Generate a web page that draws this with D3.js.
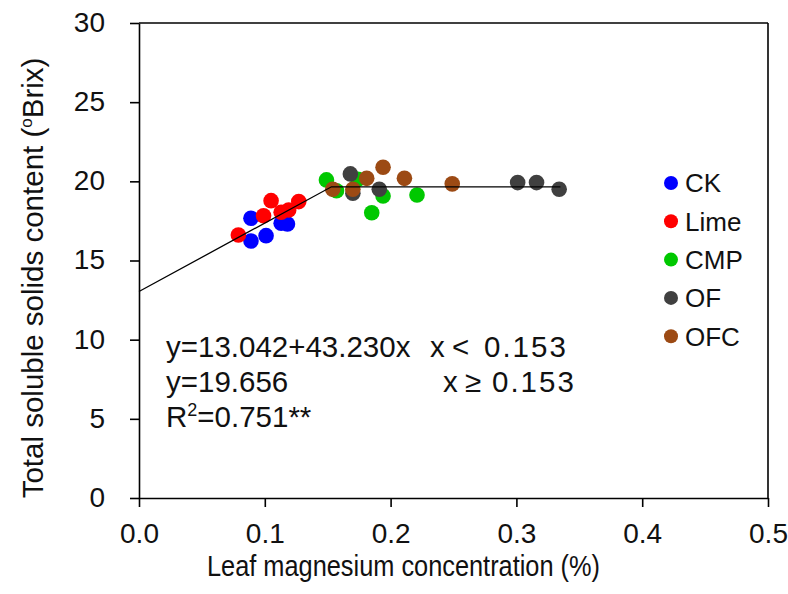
<!DOCTYPE html>
<html>
<head>
<meta charset="utf-8">
<script src="https://cdn.jsdelivr.net/npm/d3@7"></script>
<style>
  body { margin: 0; background: #fff; }
  svg { display: block; font-family: "Liberation Sans", Arial, sans-serif; }
</style>
</head>
<body>
<svg id="chart" width="788" height="594"></svg>
<script>
// ---- data ----
const seriesNames = ["CK", "Lime", "CMP", "OF", "OFC"];
const seriesColors = ["#0000ff", "#ff0000", "#00c800", "#404040", "#9c4a14"];
const ckX   = [0.089, 0.089, 0.101, 0.113, 0.118];
const ckY   = [17.67, 16.23, 16.57, 17.35, 17.31];
const limeX = [0.079, 0.099, 0.105, 0.113, 0.119, 0.127];
const limeY = [16.61, 17.83, 18.78, 18.05, 18.19, 18.72];
const cmpX  = [0.149, 0.157, 0.174, 0.185, 0.194, 0.221];
const cmpY  = [20.09, 19.41, 20.13, 18.02, 19.08, 19.14];
const ofX   = [0.168, 0.170, 0.191, 0.301, 0.316, 0.334];
const ofY   = [20.47, 19.25, 19.50, 19.92, 19.92, 19.50];
const ofcX  = [0.154, 0.170, 0.181, 0.194, 0.211, 0.249];
const ofcY  = [19.50, 19.50, 20.19, 20.89, 20.19, 19.84];
const xTicks = [0.0, 0.1, 0.2, 0.3, 0.4, 0.5];
const yTicks = [0, 5, 10, 15, 20, 25, 30];
// piecewise fit
const intercept = 13.042, slope = 43.230, breakX = 0.153, plateau = 19.656, fitEndX = 0.335;
const eqLines = ["y=13.042+43.230x", "y=19.656"];
const r2Text = "=0.751**";

const seriesX = [ckX, limeX, cmpX, ofX, ofcX];
const seriesY = [ckY, limeY, cmpY, ofY, ofcY];

const svg = d3.select("#chart");
const x = d3.scaleLinear().domain([0, 0.5]).range([139, 768]);
const y = d3.scaleLinear().domain([0, 30]).range([498, 23]);
const ink = "#111";

// frame (top & right)
svg.append("line").attr("x1", x(0)).attr("x2", x(0.5)).attr("y1", y(30)).attr("y2", y(30))
  .attr("stroke", "#000").attr("stroke-width", 1.6);
svg.append("line").attr("x1", x(0.5)).attr("x2", x(0.5)).attr("y1", y(30)).attr("y2", y(0))
  .attr("stroke", "#000").attr("stroke-width", 1.6);

const gx = svg.append("g").attr("transform", `translate(0,${y(0)})`)
  .call(d3.axisBottom(x).tickValues(xTicks).tickFormat(d3.format(".1f")).tickSize(9).tickPadding(16).tickSizeOuter(0));
const gy = svg.append("g").attr("transform", `translate(${x(0)},0)`)
  .call(d3.axisLeft(y).tickValues(yTicks).tickSize(9).tickPadding(25).tickSizeOuter(0));
[gx, gy].forEach(g => {
  g.select(".domain").attr("stroke", "#000").attr("stroke-width", 1.6);
  g.selectAll(".tick line").attr("stroke", "#000").attr("stroke-width", 1.6);
  g.selectAll(".tick text").attr("fill", ink).style("font-size", "28px")
    .style("font-family", '"Liberation Sans", Arial, sans-serif');
});
gy.selectAll(".tick text").attr("dy", "0.3em");

// points
seriesNames.forEach((name, i) => {
  const pts = seriesX[i].map((v, j) => [v, seriesY[i][j]]);
  svg.append("g").selectAll("circle").data(pts).join("circle")
    .attr("cx", d => x(d[0])).attr("cy", d => y(d[1])).attr("r", 7.8)
    .attr("fill", seriesColors[i]);
});

// fit line
svg.append("path")
  .attr("d", d3.line().x(d => x(d[0])).y(d => y(d[1]))([[0, intercept], [breakX, plateau], [fitEndX, plateau]]))
  .attr("fill", "none").attr("stroke", "#000").attr("stroke-width", 1.3);

// equation text
const eqFont = "29.5px";
const eqX = 166, eqBase = [357, 392, 427];
svg.append("text").attr("x", eqX).attr("y", eqBase[0]).style("font-size", eqFont).attr("fill", ink).text(eqLines[0]);
svg.append("text").attr("x", eqX).attr("y", eqBase[1]).style("font-size", eqFont).attr("fill", ink).text(eqLines[1]);
const r2 = svg.append("text").attr("x", eqX).attr("y", eqBase[2]).style("font-size", eqFont).attr("fill", ink);
r2.append("tspan").text("R");
r2.append("tspan").attr("dy", -11).style("font-size", "18px").text("2");
r2.append("tspan").attr("dy", 11).text(r2Text);
// conditions
function cond(xs, sym, xsym, xnum, base) {
  const g = svg.append("g").style("font-size", eqFont).attr("fill", ink);
  g.append("text").attr("x", xs).attr("y", base).text("x");
  g.append("text").attr("x", xsym).attr("y", base).text(sym);
  g.append("text").attr("x", xnum).attr("y", base).style("letter-spacing", "2px").text(breakX.toFixed(3));
}
cond(430, "<", 452, 484, eqBase[0]);
cond(443, "\u2265", 465, 492, eqBase[1]);

// legend
const lg = svg.append("g");
seriesNames.forEach((name, i) => {
  const cy = 183 + i * 38.3;
  lg.append("circle").attr("cx", 671).attr("cy", cy).attr("r", 7).attr("fill", seriesColors[i]);
  lg.append("text").attr("x", 685).attr("y", cy).attr("dy", "0.36em").style("font-size", "26px")
    .attr("fill", ink).text(name);
});

// axis titles
svg.append("text").attr("x", 207).attr("y", 576)
  .attr("textLength", 393).attr("lengthAdjust", "spacingAndGlyphs")
  .style("font-size", "29px").attr("fill", ink).text("Leaf magnesium concentration (%)");
const yt = svg.append("text").attr("transform", `translate(43,278) rotate(-90)`)
  .attr("text-anchor", "middle").style("font-size", "29.5px").attr("fill", ink);
yt.append("tspan").text("Total soluble solids content (");
yt.append("tspan").attr("dy", -11).style("font-size", "17px").text("o");
yt.append("tspan").attr("dy", 11).text("Brix)");
</script>
</body>
</html>
